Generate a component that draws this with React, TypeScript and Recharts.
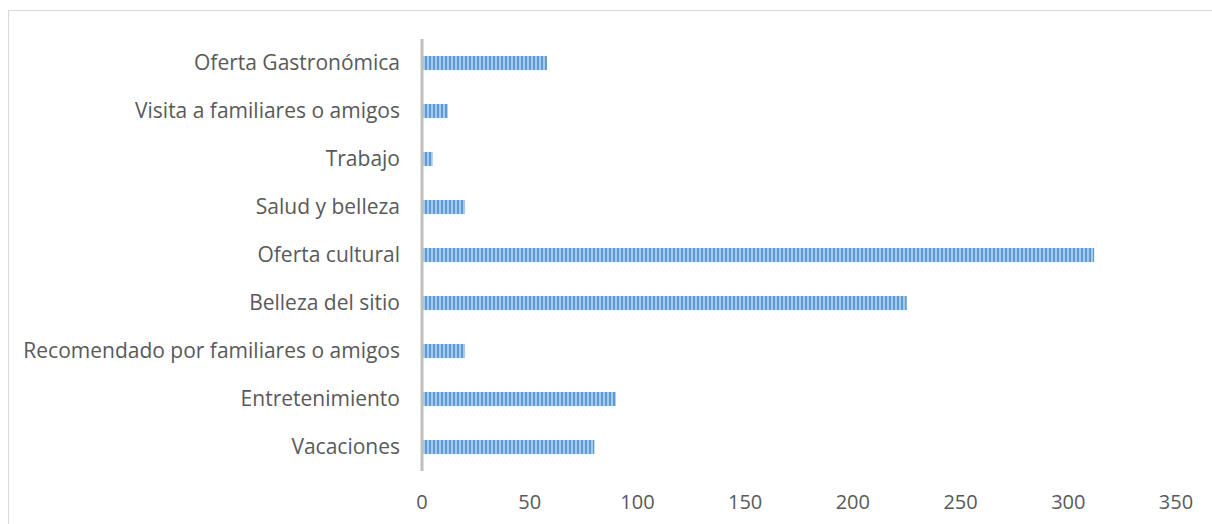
import { Bar, BarChart, XAxis, YAxis } from "recharts"

const categories = [
  "Oferta Gastronómica",
  "Visita a familiares o amigos",
  "Trabajo",
  "Salud y belleza",
  "Oferta cultural",
  "Belleza del sitio",
  "Recomendado por familiares o amigos",
  "Entretenimiento",
  "Vacaciones",
]
const values = [58, 12, 5, 20, 312, 225, 20, 90, 80]
const xTicks = [0, 50, 100, 150, 200, 250, 300, 350]

const data = categories.map((name, i) => ({ name, value: values[i] }))

const font = "'Open Sans', sans-serif"

export default function App() {
  return (
    <div
      style={{
        position: "absolute",
        left: 8,
        top: 10,
        width: 1220,
        height: 530,
        border: "1px solid #d9d9d9",
        background: "#fff",
        fontFamily: font,
      }}
    >
      <svg width={0} height={0} style={{ position: "absolute" }}>
        <defs>
          <pattern id="stripes" width={4} height={4} patternUnits="userSpaceOnUse">
            <rect x={0} y={0} width={4} height={4} fill="#a9cbeb" />
            <rect x={0} y={0} width={2} height={4} fill="#5b9bd5" />
          </pattern>
        </defs>
      </svg>
      <BarChart
        width={1220}
        height={530}
        data={data}
        layout="vertical"
        margin={{ top: 28, right: 53, bottom: 10, left: 0 }}
      >
        <XAxis
          type="number"
          domain={[0, 350]}
          ticks={xTicks}
          axisLine={false}
          tickLine={false}
          tickSize={0}
          tickMargin={24}
          height={60}
          tick={{ fill: "#595959", fontSize: 20, fontFamily: font }}
        />
        <YAxis
          type="category"
          dataKey="name"
          width={413}
          axisLine={{ stroke: "#bfbfbf", strokeWidth: 3 }}
          tickLine={false}
          tickSize={0}
          tickMargin={22}
          interval={0}
          tick={{ fill: "#595959", fontSize: 21, fontFamily: font }}
        />
        <Bar dataKey="value" barSize={14} fill="url(#stripes)" isAnimationActive={false} />
      </BarChart>
    </div>
  )
}
